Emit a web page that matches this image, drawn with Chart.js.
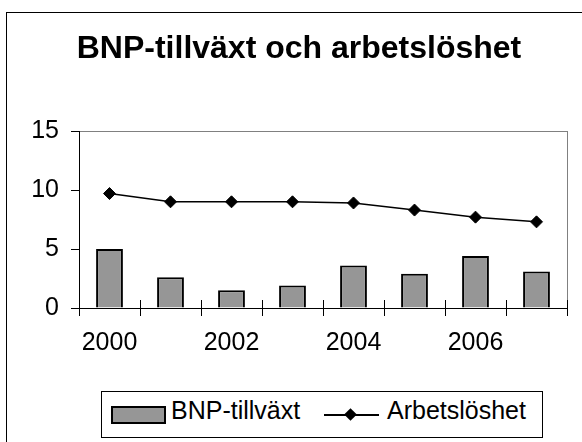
<!DOCTYPE html>
<html>
<head>
<meta charset="utf-8">
<title>BNP-tillväxt och arbetslöshet</title>
<script src="https://cdn.jsdelivr.net/npm/chart.js@4.4.1/dist/chart.umd.min.js"></script>
<style>
  html, body { margin: 0; padding: 0; background: #fff; overflow: hidden; }
  #wrap { position: relative; width: 582px; height: 442px; }
  #legend {
    position: absolute; left: 101px; top: 391px; width: 442px; height: 47px;
    box-sizing: border-box; border: 1px solid #000; background: #fff;
    font-family: 'Liberation Sans', Arial, sans-serif; font-size: 25px; color: #000;
  }
  #legend .swatch {
    position: absolute; left: 9px; top: 14px; width: 55px; height: 18px;
    box-sizing: border-box; background: #969696; border: 2px solid #000;
  }
  #legend .txt { position: absolute; top: 6px; line-height: 25px; white-space: nowrap; }
  #legend .line { position: absolute; left: 222px; top: 22px; width: 55px; height: 2px; background: #000; }
  #legend .diamond {
    position: absolute; left: 244px; top: 18px; width: 9px; height: 9px;
    background: #000; transform: rotate(45deg);
  }
</style>
</head>
<body>
<div id="wrap">
  <canvas id="chart" width="582" height="442"></canvas>
  <div id="legend"></div>
</div>
<script>
const categories = ['2000', '2001', '2002', '2003', '2004', '2005', '2006', '2007'];
const tickLabels = ['2000', '2002', '2004', '2006'];
const seriesNames = ['BNP-tillväxt', 'Arbetslöshet'];
const bnpGrowth = [5.0, 2.6, 1.5, 1.9, 3.6, 2.9, 4.4, 3.1];
const unemployment = [9.7, 9.0, 9.0, 9.0, 8.9, 8.3, 7.7, 7.3];

Chart.defaults.font.family = "'Liberation Sans', Arial, sans-serif";
Chart.defaults.font.size = 25;
Chart.defaults.color = '#000';

// outer chart frame, plot area right border and the upper half of the x ticks
const frame = {
  id: 'frame',
  beforeDraw(chart) {
    const c = chart.ctx;
    c.save();
    c.fillStyle = '#fff';
    c.fillRect(0, 0, chart.width, chart.height);
    c.strokeStyle = '#000';
    c.lineWidth = 1;
    c.strokeRect(6.5, 12.5, chart.width + 20, chart.height + 20);
    c.restore();
  },
  afterDatasetsDraw(chart) {
    const c = chart.ctx;
    const a = chart.chartArea;
    const x = chart.scales.x;
    c.save();
    c.strokeStyle = '#808080';
    c.lineWidth = 1;
    c.beginPath();
    c.moveTo(Math.round(a.right) + 0.5, a.top);
    c.lineTo(Math.round(a.right) + 0.5, a.bottom);
    c.stroke();
    c.strokeStyle = '#000';
    c.beginPath();
    for (let i = 0; i <= categories.length; i++) {
      const px = Math.round(x.getPixelForValue(i - 0.5)) + 0.5;
      c.moveTo(px, a.bottom - 8);
      c.lineTo(px, a.bottom);
    }
    c.stroke();
    c.restore();
  }
};

new Chart(document.getElementById('chart'), {
  data: {
    labels: categories,
    datasets: [
      {
        type: 'line',
        label: seriesNames[1],
        data: unemployment,
        borderColor: '#000',
        borderWidth: 1.5,
        pointStyle: 'rectRot',
        pointRadius: 6,
        pointBackgroundColor: '#000',
        pointBorderColor: '#000',
        pointBorderWidth: 1,
        tension: 0,
        order: 0
      },
      {
        type: 'bar',
        label: seriesNames[0],
        data: bnpGrowth,
        backgroundColor: '#969696',
        borderColor: '#000',
        borderWidth: 2,
        barPercentage: 0.44,
        categoryPercentage: 1,
        order: 1
      }
    ]
  },
  options: {
    responsive: false,
    animation: false,
    layout: { padding: { left: 31, right: 15, top: 0, bottom: 72 } },
    plugins: {
      legend: { display: false },
      tooltip: { enabled: false },
      title: {
        display: true,
        text: 'BNP-tillväxt och arbetslöshet',
        font: { size: 32, weight: 'bold' },
        color: '#000',
        padding: { top: 30, bottom: 62.6 }
      }
    },
    scales: {
      x: {
        offset: true,
        border: { color: '#000', width: 1 },
        grid: { offset: true, drawOnChartArea: false, color: '#000', tickLength: 8 },
        ticks: {
          autoSkip: false,
          maxRotation: 0,
          padding: 12,
          callback: (v, i) => tickLabels.includes(categories[i]) ? categories[i] : ''
        }
      },
      y: {
        min: 0,
        max: 15,
        border: { color: '#000', width: 1 },
        grid: {
          color: ctx => ctx.tick && ctx.tick.value === 15 ? '#808080' : 'rgba(0,0,0,0)',
          tickColor: '#000',
          tickLength: 8
        },
        ticks: { stepSize: 5, padding: 12 },
        afterFit: scale => { scale.width = 48; }
      }
    }
  },
  plugins: [frame]
});

// legend box, centred under the plot area like the original
const lg = document.getElementById('legend');
lg.innerHTML =
  '<span class="swatch"></span>' +
  '<span class="txt" style="left:69px">' + seriesNames[0] + '</span>' +
  '<span class="line"></span><span class="diamond"></span>' +
  '<span class="txt" style="left:285px">' + seriesNames[1] + '</span>';
</script>
</body>
</html>
